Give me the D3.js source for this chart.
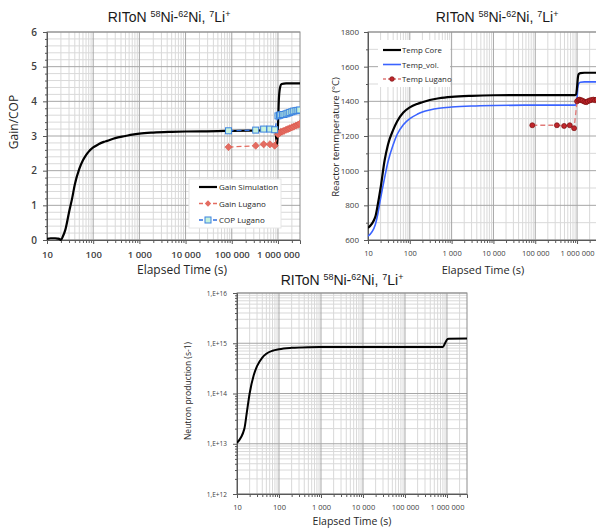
<!DOCTYPE html>
<html>
<head>
<meta charset="utf-8">
<script src="https://cdn.jsdelivr.net/npm/d3@7"></script>
<style>
  body { margin: 0; background: #fff; }
  svg { display: block; }
</style>
</head>
<body>
<svg id="chart" width="596" height="532"></svg>
<script>
// ---------- shared axis data ----------
const xTickValues = [10, 100, 1e3, 1e4, 1e5, 1e6];
const xTickLabels = ["10", "100", "1 000", "10 000", "100 000", "1 000 000"];
const titleParts = [["RIToN ", false], ["58", true], ["Ni-", false], ["62", true], ["Ni, ", false], ["7", true], ["Li", false], ["+", true]];
const xAxisTitle = "Elapsed Time (s)";

// ---------- gain / COP ----------
const gainSimTime  = [10, 12, 15, 17, 19, 20, 22, 25, 30, 35, 40, 50, 60, 70, 80, 100, 130, 170, 200, 300, 500, 700, 1000, 2000, 5000, 1e4, 5e4, 1e5, 5e5, 8.8e5, 9.2e5, 9.6e5, 1.0e6, 1.05e6, 1.12e6, 1.2e6, 1.5e6, 3e6];
const gainSimValue = [0.03, 0.05, 0.05, 0.04, 0.02, 0.0, 0.1, 0.3, 0.8, 1.2, 1.6, 2.05, 2.3, 2.45, 2.55, 2.67, 2.76, 2.83, 2.86, 2.94, 3.0, 3.04, 3.07, 3.1, 3.12, 3.13, 3.14, 3.15, 3.16, 3.17, 2.9, 2.72, 3.3, 4.1, 4.42, 4.5, 4.52, 4.52];
const luganoTime   = [8.5e4, 3.3e5, 4.9e5, 6.7e5, 8.5e5, 1.0e6, 1.08e6, 1.15e6, 1.25e6, 1.35e6, 1.5e6, 1.65e6, 1.8e6, 2.0e6, 2.2e6, 2.45e6, 2.7e6, 2.95e6];
const gainLugano   = [2.68, 2.72, 2.76, 2.76, 2.72, 3.05, 3.08, 3.12, 3.13, 3.15, 3.18, 3.2, 3.22, 3.25, 3.27, 3.3, 3.32, 3.35];
const copLugano    = [3.15, 3.17, 3.2, 3.2, 3.18, 3.58, 3.6, 3.61, 3.62, 3.62, 3.64, 3.66, 3.68, 3.7, 3.72, 3.73, 3.74, 3.75];
const gainTicks = [0, 1, 2, 3, 4, 5, 6];

// ---------- reactor temperature ----------
const tempTime     = [10, 15, 17, 20, 25, 30, 40, 50, 70, 100, 150, 200, 300, 500, 1000, 3000, 1e4, 1e5, 9e5, 9.5e5, 1e6, 1.05e6, 1.1e6, 1.2e6, 1.5e6, 3e6];
const tempCore     = [670, 735, 800, 900, 1060, 1150, 1235, 1285, 1335, 1365, 1385, 1395, 1408, 1418, 1426, 1432, 1435, 1436, 1436, 1440, 1480, 1540, 1558, 1563, 1565, 1565];
const tempVol      = [622, 690, 745, 840, 960, 1050, 1150, 1210, 1265, 1300, 1325, 1338, 1350, 1360, 1367, 1373, 1376, 1378, 1378, 1382, 1420, 1485, 1503, 1510, 1512, 1512];
const tempLugano   = [1262, 1262, 1258, 1262, 1245, 1400, 1408, 1410, 1406, 1404, 1398, 1395, 1400, 1405, 1408, 1410, 1406, 1410];
const tempTicks = [600, 800, 1000, 1200, 1400, 1600, 1800];

// ---------- neutron production ----------
const neutronTime  = [10, 15, 17, 20, 25, 30, 40, 50, 70, 100, 200, 500, 1000, 1e4, 1e5, 8e5, 9e5, 1e6, 1.1e6, 3e6];
const neutronValue = [1.05e13, 2e13, 4e13, 1e14, 2.3e14, 3.5e14, 5.2e14, 6.2e14, 7.1e14, 7.6e14, 8.1e14, 8.35e14, 8.4e14, 8.45e14, 8.45e14, 8.45e14, 1.0e15, 1.18e15, 1.23e15, 1.24e15];
const neutronTicks = [1e12, 1e13, 1e14, 1e15, 1e16];
const neutronTickLabels = ["1,E+12", "1,E+13", "1,E+14", "1,E+15", "1,E+16"];

const svg = d3.select("#chart");
const SANS = "'Open Sans', 'Liberation Sans', sans-serif";
const X_DOMAIN = [10, 3e6];

// minor positions on a log axis: 2..9 times each power of ten inside the range
function logMinors(lo, hi) {
  const out = [];
  for (let e = Math.floor(Math.log10(lo)); e <= Math.ceil(Math.log10(hi)); e++) {
    for (let k = 2; k <= 9; k++) {
      const v = k * Math.pow(10, e);
      if (v > lo && v < hi) out.push(v);
    }
  }
  return out;
}

function drawTitle(cx, baseline, size) {
  const t = svg.append("text")
    .attr("x", cx).attr("y", baseline)
    .attr("text-anchor", "middle")
    .style("font-family", "'Liberation Sans', Arial, sans-serif")
    .style("font-size", size + "px")
    .attr("fill", "#1a1a1a");
  titleParts.forEach(([s, sup]) => {
    const ts = t.append("tspan").text(s);
    if (sup) ts.style("font-size", (size * 0.64) + "px").attr("baseline-shift", "super");
  });
}

function makePanel(p) {
  const g = svg.append("g");
  const x = d3.scaleLog().domain(X_DOMAIN).range([p.left, p.right]);
  const y = p.y.range([p.bottom, p.top]);

  const clipId = "clip-" + p.id;
  svg.append("clipPath").attr("id", clipId)
    .append("rect").attr("x", p.left).attr("y", p.top - 3)
    .attr("width", p.right - p.left).attr("height", p.bottom - p.top + 6);

  const grid = g.append("g");
  // minor grid
  grid.selectAll(".vmin").data(logMinors(X_DOMAIN[0], X_DOMAIN[1])).join("line")
    .attr("x1", d => x(d)).attr("x2", d => x(d))
    .attr("y1", p.top).attr("y2", p.bottom)
    .attr("stroke", "#d9d9d9").attr("stroke-width", 1);
  grid.selectAll(".hmin").data(p.yMinor).join("line")
    .attr("x1", p.left).attr("x2", p.right)
    .attr("y1", d => y(d)).attr("y2", d => y(d))
    .attr("stroke", "#d9d9d9").attr("stroke-width", 1);
  // major grid
  grid.selectAll(".vmaj").data(xTickValues).join("line")
    .attr("x1", d => x(d)).attr("x2", d => x(d))
    .attr("y1", p.top).attr("y2", p.bottom)
    .attr("stroke", "#a6a6a6").attr("stroke-width", 1);
  grid.selectAll(".hmaj").data(p.yTicks).join("line")
    .attr("x1", p.left).attr("x2", p.right)
    .attr("y1", d => y(d)).attr("y2", d => y(d))
    .attr("stroke", "#a6a6a6").attr("stroke-width", 1);

  // plot frame
  g.append("rect")
    .attr("x", p.left).attr("y", p.top)
    .attr("width", p.right - p.left).attr("height", p.bottom - p.top)
    .attr("fill", "none").attr("stroke", "#8c8c8c").attr("stroke-width", 1);

  // x axis
  const xa = g.append("g").attr("transform", `translate(0,${p.bottom})`)
    .call(d3.axisBottom(x).tickValues(xTickValues)
      .tickFormat((d, i) => xTickLabels[i]).tickSize(4).tickPadding(p.xPad));
  g.append("g").attr("transform", `translate(0,${p.bottom})`)
    .call(d3.axisBottom(x).tickValues(logMinors(X_DOMAIN[0], X_DOMAIN[1])).tickFormat("").tickSize(3))
    .call(a => a.select(".domain").remove());
  xa.selectAll("text").style("font-family", SANS).style("font-size", p.xFont + "px")
    .style("font-weight", p.weight).attr("fill", "#404040");

  // y axis
  const ya = g.append("g").attr("transform", `translate(${p.left},0)`)
    .call(d3.axisLeft(y).tickValues(p.yTicks)
      .tickFormat((d, i) => p.yLabels[i]).tickSize(4).tickPadding(p.yPad));
  g.append("g").attr("transform", `translate(${p.left},0)`)
    .call(d3.axisLeft(y).tickValues(p.yMinor).tickFormat("").tickSize(2))
    .call(a => a.select(".domain").remove());
  ya.selectAll("text").style("font-family", SANS).style("font-size", p.yFont + "px")
    .style("font-weight", p.weight).attr("fill", "#404040");

  [xa, ya].forEach(a => a.select(".domain").attr("stroke", "#595959"));
  g.selectAll(".tick line").attr("stroke", "#595959");

  const plot = g.append("g").attr("clip-path", `url(#${clipId})`);
  return { g, plot, x, y };
}

function line(x, y, curve) {
  return d3.line().x(d => x(d[0])).y(d => y(d[1])).curve(curve || d3.curveMonotoneX);
}
const zip = (a, b) => a.map((v, i) => [v, b[i]]);

// square turned by 45 degrees, used for the measured gain points
const diamondPath = (r) => `M0,${-r}L${r},0L0,${r}L${-r},0Z`;

// ======================= Gain / COP =======================
{
  const P = makePanel({
    id: "gain", left: 47, right: 300, top: 32, bottom: 240,
    y: d3.scaleLinear().domain([0, 6]),
    yTicks: gainTicks, yLabels: gainTicks.map(String),
    yMinor: d3.range(0.2, 6, 0.2).filter(v => Math.abs(v - Math.round(v)) > 1e-6),
    xFont: 9.5, yFont: 10, weight: 600, xPad: 7, yPad: 6
  });
  const { plot, x, y } = P;

  plot.append("path").datum(zip(gainSimTime, gainSimValue))
    .attr("d", line(x, y)).attr("fill", "none")
    .attr("stroke", "#000").attr("stroke-width", 2.2).attr("stroke-linejoin", "round");

  // COP Lugano
  plot.append("path").datum(zip(luganoTime, copLugano))
    .attr("d", line(x, y, d3.curveLinear)).attr("fill", "none")
    .attr("stroke", "#2f6fe0").attr("stroke-width", 1.3).attr("stroke-dasharray", "5,3");
  // Gain Lugano
  plot.append("path").datum(zip(luganoTime, gainLugano))
    .attr("d", line(x, y, d3.curveLinear)).attr("fill", "none")
    .attr("stroke", "#e46c61").attr("stroke-width", 1.3).attr("stroke-dasharray", "5,3");

  plot.selectAll(".gl").data(zip(luganoTime, gainLugano)).join("path")
    .attr("transform", d => `translate(${x(d[0])},${y(d[1])})`)
    .attr("d", diamondPath(3.6)).attr("fill", "#e46c61").attr("stroke", "#d9574c").attr("stroke-width", 0.6);
  plot.selectAll(".cl").data(zip(luganoTime, copLugano)).join("rect")
    .attr("x", d => x(d[0]) - 3).attr("y", d => y(d[1]) - 3)
    .attr("width", 6).attr("height", 6)
    .attr("fill", "#c6f2dc").attr("stroke", "#3b82e0").attr("stroke-width", 1);

  // legend
  const lg = svg.append("g");
  lg.append("rect").attr("x", 189).attr("y", 179).attr("width", 92).attr("height", 49)
    .attr("fill", "#fff").attr("stroke", "#e6e6e6");
  const items = [
    { name: "Gain Simulation", color: "#000", w: 2.2, dash: null, mark: null },
    { name: "Gain Lugano", color: "#e46c61", w: 1.3, dash: "4,3", mark: "diamond" },
    { name: "COP Lugano", color: "#2f6fe0", w: 1.3, dash: "4,3", mark: "square" }
  ];
  items.forEach((it, i) => {
    const yy = 187 + i * 16.5;
    lg.append("line").attr("x1", 199).attr("x2", 217).attr("y1", yy).attr("y2", yy)
      .attr("stroke", it.color).attr("stroke-width", it.w).attr("stroke-dasharray", it.dash);
    if (it.mark === "diamond") {
      lg.append("path").attr("transform", `translate(208,${yy})`).attr("d", diamondPath(3.2)).attr("fill", "#e46c61");
    } else if (it.mark === "square") {
      lg.append("rect").attr("x", 205).attr("y", yy - 3).attr("width", 6).attr("height", 6)
        .attr("fill", "#c6f2dc").attr("stroke", "#3b82e0");
    }
    lg.append("text").attr("x", 219).attr("y", yy + 3)
      .style("font-family", SANS).style("font-size", "8px").attr("fill", "#262626").text(it.name);
  });

  svg.append("text").attr("transform", "translate(18,122) rotate(-90)")
    .attr("text-anchor", "middle").style("font-family", SANS).style("font-size", "12px")
    .attr("fill", "#262626").text("Gain/COP");
  svg.append("text").attr("x", 182).attr("y", 274).attr("text-anchor", "middle")
    .style("font-family", SANS).style("font-size", "12px").attr("fill", "#262626").text(xAxisTitle);
  drawTitle(169, 22, 14);
}

// ======================= Reactor temperature =======================
{
  const P = makePanel({
    id: "temp", left: 368, right: 597, top: 32, bottom: 240,
    y: d3.scaleLinear().domain([600, 1800]),
    yTicks: tempTicks, yLabels: tempTicks.map(String),
    yMinor: d3.range(700, 1800, 200),
    xFont: 7.5, yFont: 8, weight: 400, xPad: 7, yPad: 5
  });
  const { plot, x, y } = P;

  plot.append("path").datum(zip(tempTime, tempVol))
    .attr("d", line(x, y)).attr("fill", "none")
    .attr("stroke", "#3a63ff").attr("stroke-width", 1.6);
  plot.append("path").datum(zip(tempTime, tempCore))
    .attr("d", line(x, y)).attr("fill", "none")
    .attr("stroke", "#000").attr("stroke-width", 2.2);

  plot.append("path").datum(zip(luganoTime, tempLugano))
    .attr("d", line(x, y, d3.curveLinear)).attr("fill", "none")
    .attr("stroke", "#e07a78").attr("stroke-width", 1.3).attr("stroke-dasharray", "5,3");
  plot.selectAll(".tl").data(zip(luganoTime, tempLugano)).join("circle")
    .attr("cx", d => x(d[0])).attr("cy", d => y(d[1])).attr("r", 2.5)
    .attr("fill", "#c0262c").attr("stroke", "#7a1010").attr("stroke-width", 0.7);

  const lg = svg.append("g");
  lg.append("rect").attr("x", 378).attr("y", 40).attr("width", 72).attr("height", 47).attr("fill", "#fff");
  const items = [
    { name: "Temp Core", color: "#000", w: 2.2, dash: null, dot: false },
    { name: "Temp_vol.", color: "#3a63ff", w: 1.6, dash: null, dot: false },
    { name: "Temp Lugano", color: "#e07a78", w: 1.3, dash: "3,2", dot: true }
  ];
  items.forEach((it, i) => {
    const yy = 50 + i * 14.5;
    lg.append("line").attr("x1", 383).attr("x2", 401).attr("y1", yy).attr("y2", yy)
      .attr("stroke", it.color).attr("stroke-width", it.w).attr("stroke-dasharray", it.dash);
    if (it.dot) lg.append("circle").attr("cx", 392).attr("cy", yy).attr("r", 2.3)
      .attr("fill", "#c0262c").attr("stroke", "#7a1010").attr("stroke-width", 0.7);
    lg.append("text").attr("x", 402).attr("y", yy + 3)
      .style("font-family", SANS).style("font-size", "7.8px").attr("fill", "#262626").text(it.name);
  });

  svg.append("text").attr("transform", "translate(339,137) rotate(-90)")
    .attr("text-anchor", "middle").style("font-family", SANS).style("font-size", "9.5px")
    .attr("fill", "#262626").text("Reactor temmperature (°C)");
  svg.append("text").attr("x", 483).attr("y", 274).attr("text-anchor", "middle")
    .style("font-family", SANS).style("font-size", "11px").attr("fill", "#262626").text(xAxisTitle);
  drawTitle(497, 22, 14);
}

// ======================= Neutron production =======================
{
  const P = makePanel({
    id: "neutron", left: 237, right: 467, top: 293, bottom: 494,
    y: d3.scaleLog().domain([1e12, 1e16]),
    yTicks: neutronTicks, yLabels: neutronTickLabels,
    yMinor: logMinors(1e12, 1e16),
    xFont: 7.5, yFont: 6.5, weight: 400, xPad: 7, yPad: 6
  });
  const { plot, x, y } = P;

  plot.append("path").datum(zip(neutronTime, neutronValue))
    .attr("d", line(x, y)).attr("fill", "none")
    .attr("stroke", "#000").attr("stroke-width", 2);

  svg.append("text").attr("transform", "translate(191,391) rotate(-90)")
    .attr("text-anchor", "middle").style("font-family", SANS).style("font-size", "8.5px")
    .attr("fill", "#262626").text("Neutron production (s-1)");
  svg.append("text").attr("x", 352).attr("y", 525).attr("text-anchor", "middle")
    .style("font-family", SANS).style("font-size", "10.5px").attr("fill", "#262626").text(xAxisTitle);
  drawTitle(342, 285, 14);
}
</script>
</body>
</html>
